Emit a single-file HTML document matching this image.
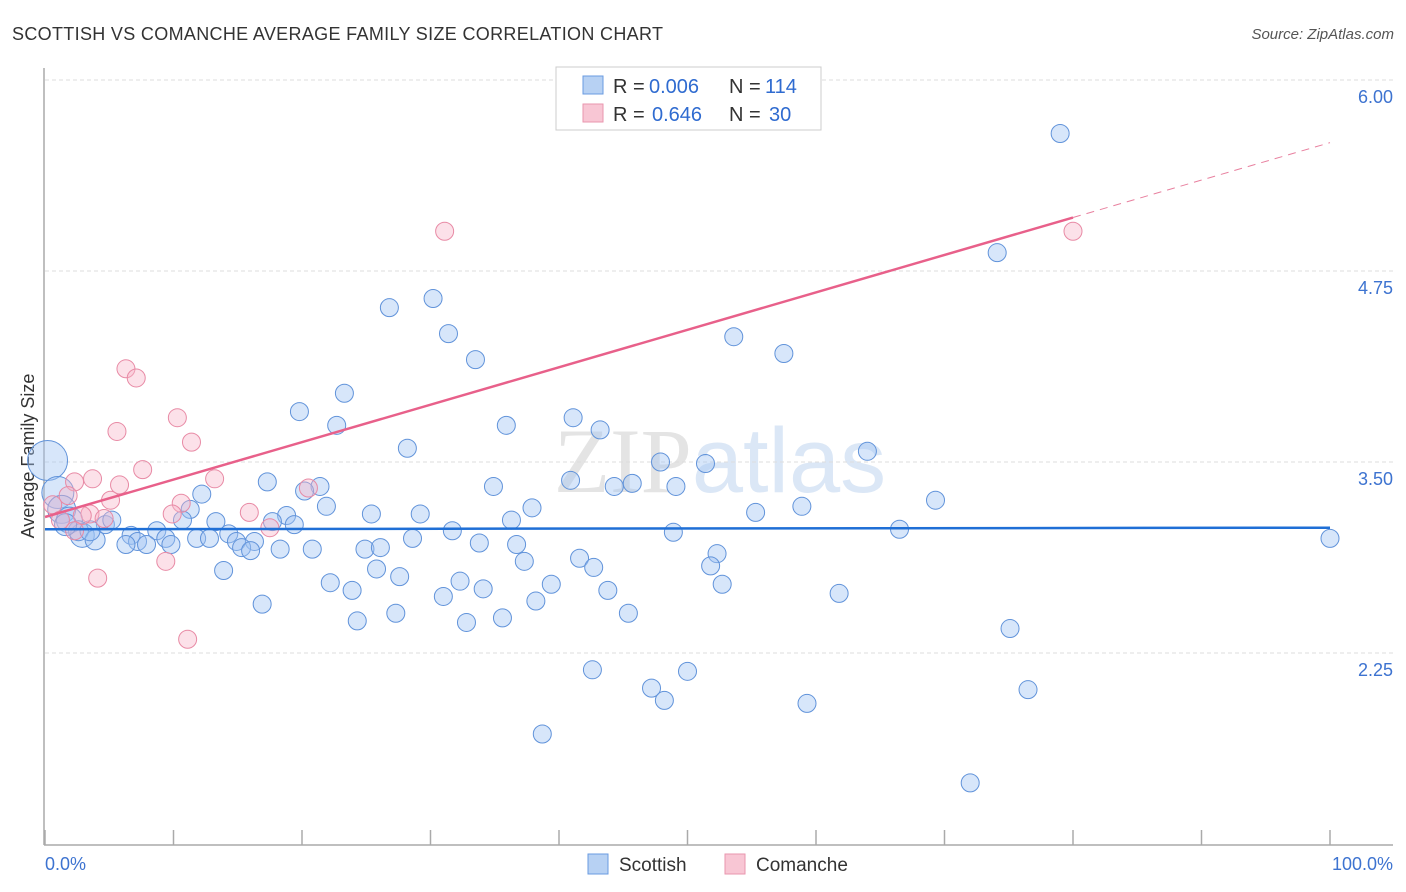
<!DOCTYPE html>
<html><head><meta charset="utf-8"><style>
body{margin:0;background:#fff;font-family:"Liberation Sans",sans-serif;}
svg{display:block}
</style></head><body>
<svg id="chart" width="1406" height="892">
<text x="12" y="40" font-size="18" fill="#333" textLength="651">SCOTTISH VS COMANCHE AVERAGE FAMILY SIZE CORRELATION CHART</text>
<text x="1394" y="39" font-size="15" fill="#555" font-style="italic" text-anchor="end">Source: ZipAtlas.com</text>
<text x="720" y="492" font-size="92" fill="#e4e4e4" text-anchor="middle" font-family="Liberation Serif">ZIP<tspan fill="#dbe7f6" font-family="Liberation Sans">atlas</tspan></text>
<g id="grid"></g>
<line x1="44" y1="68" x2="44" y2="845" stroke="#aaa" stroke-width="1.5"/>
<line x1="44" y1="845" x2="1393" y2="845" stroke="#aaa" stroke-width="1.5"/>
<g id="xticks"></g>
<text x="34" y="456" font-size="18" fill="#333" text-anchor="middle" transform="rotate(-90 34 456)">Average Family Size</text>
<text x="45" y="870" font-size="18" fill="#3d73d0">0.0%</text>
<text x="1393" y="870" font-size="18" fill="#3d73d0" text-anchor="end">100.0%</text>
<g id="pts"></g>
<g id="lines"></g>
<g>
<rect x="556" y="67" width="265" height="63" fill="#fff" stroke="#ccc"/>
<rect x="583" y="76" width="20" height="18" fill="#b7d1f3" stroke="#6a9be0"/>
<rect x="583" y="104" width="20" height="18" fill="#f8c6d4" stroke="#e996ae"/>
<text x="613" y="93" font-size="20" fill="#333">R =</text>
<text x="649" y="93" font-size="20" fill="#2f6bd0">0.006</text>
<text x="729" y="93" font-size="20" fill="#333">N =</text>
<text x="765" y="93" font-size="20" fill="#2f6bd0">114</text>
<text x="613" y="121" font-size="20" fill="#333">R =</text>
<text x="652" y="121" font-size="20" fill="#2f6bd0">0.646</text>
<text x="729" y="121" font-size="20" fill="#333">N =</text>
<text x="769" y="121" font-size="20" fill="#2f6bd0">30</text>
</g>
<g>
<rect x="588" y="854" width="20" height="20" fill="#b7d1f3" stroke="#6a9be0"/>
<text x="619" y="871" font-size="19" fill="#333">Scottish</text>
<rect x="725" y="854" width="20" height="20" fill="#f8c6d4" stroke="#e996ae"/>
<text x="756" y="871" font-size="19" fill="#333">Comanche</text>
</g>
</svg>
<script>
const yTicks=[6.00,4.75,3.50,2.25];
const yTickLabels=["6.00","4.75","3.50","2.25"];
const xTicks=[0,10,20,30,40,50,60,70,80,90,100];
const scotX=[79.0,74.1,26.8,30.2,31.4,33.5,53.6,57.5,23.3,19.8,22.7,35.9,41.1,43.2,28.2,64.0,47.9,51.4,17.3,34.9,40.9,44.3,45.7,49.1,21.4,20.2,12.2,69.3,11.3,21.9,37.9,55.3,58.9,25.4,29.2,18.8,17.7,19.4,36.3,13.3,10.7,31.7,48.9,66.5,8.7,6.7,14.3,28.6,100,11.8,12.8,9.4,7.2,6.3,7.9,9.8,14.9,16.3,15.3,16.0,18.3,20.8,24.9,26.1,33.8,36.7,41.6,52.3,37.3,42.7,51.8,13.9,25.8,27.6,32.3,22.2,39.4,52.7,23.9,34.1,43.8,31.0,38.2,61.8,16.9,27.3,45.4,35.6,32.8,24.3,75.1,42.6,50.0,47.2,48.2,59.3,76.5,38.7,72.0,0.2,1.0,1.3,1.9,2.9,2.6,3.9,4.7,5.2,3.5,1.6];
const scotY=[5.65,4.87,4.51,4.57,4.34,4.17,4.32,4.21,3.95,3.83,3.74,3.74,3.79,3.71,3.59,3.57,3.50,3.49,3.37,3.34,3.38,3.34,3.36,3.34,3.34,3.31,3.29,3.25,3.19,3.21,3.20,3.17,3.21,3.16,3.16,3.15,3.11,3.09,3.12,3.11,3.12,3.05,3.04,3.06,3.05,3.02,3.03,3.00,3.00,3.00,3.00,3.00,2.98,2.96,2.96,2.96,2.98,2.98,2.94,2.92,2.93,2.93,2.93,2.94,2.97,2.96,2.87,2.90,2.85,2.81,2.82,2.79,2.80,2.75,2.72,2.71,2.70,2.70,2.66,2.67,2.66,2.62,2.59,2.64,2.57,2.51,2.51,2.48,2.45,2.46,2.41,2.14,2.13,2.02,1.94,1.92,2.01,1.72,1.40,3.51,3.30,3.19,3.12,3.02,3.05,2.99,3.09,3.12,3.05,3.09];
const scotR=[9,9,9,9,9,9,9,9,9,9,9,9,9,9,9,9,9,9,9,9,9,9,9,9,9,9,9,9,9,9,9,9,9,9,9,9,9,9,9,9,9,9,9,9,9,9,9,9,9,9,9,9,9,9,9,9,9,9,9,9,9,9,9,9,9,9,9,9,9,9,9,9,9,9,9,9,9,9,9,9,9,9,9,9,9,9,9,9,9,9,9,9,9,9,9,9,9,9,9,20,16,14,13,12,10,10,9,9,10,11];
const comX=[31.1,80.0,6.3,7.1,10.3,5.6,11.4,7.6,3.7,13.2,2.3,5.8,20.5,1.8,5.1,10.6,0.6,15.9,9.9,3.5,2.9,4.6,17.5,9.4,4.1,11.1,1.2,2.3];
const comY=[5.01,5.01,4.11,4.05,3.79,3.70,3.63,3.45,3.39,3.39,3.37,3.35,3.33,3.28,3.25,3.23,3.22,3.17,3.16,3.16,3.15,3.13,3.07,2.85,2.74,2.34,3.12,3.05];
const scotTrend=[3.06,3.07];
const comTrendStart=3.14, comTrendEnd=5.59, comSolidEnd=80;
const NS='http://www.w3.org/2000/svg';
const X=p=>45+p*12.85, Y=v=>80+(6-v)*152.8;
function mk(t,a,parent){const e=document.createElementNS(NS,t);for(const k in a)e.setAttribute(k,a[k]);document.getElementById(parent).appendChild(e);return e;}
yTicks.forEach((v,i)=>{
 const g=mk('line',{x1:45,x2:1393,y1:Y(v),y2:Y(v),stroke:'#ddd','stroke-dasharray':'4 3'},'grid');
 
 
 const t=mk('text',{x:1393,y:Y(v)+23,'font-size':18,fill:'#3d73d0','text-anchor':'end'},'grid');
 t.textContent=yTickLabels[i];
 
 
});
xTicks.forEach(p=>{
 const l=mk('line',{x1:X(p),x2:X(p),y1:830,y2:845,stroke:'#aaa','stroke-width':1.5},'xticks');
 
 
});
scotX.forEach((p,i)=>{
 const c=mk('circle',{cx:X(p),cy:Y(scotY[i]),r:scotR[i],fill:'rgba(160,196,242,0.42)',stroke:'#6193da','stroke-width':1},'pts');
 
 
});
comX.forEach((p,i)=>{
 const c=mk('circle',{cx:X(p),cy:Y(comY[i]),r:9,fill:'rgba(247,180,200,0.4)',stroke:'#e88aa5','stroke-width':1},'pts');
 
 
});
const bl=mk('line',{x1:X(0),y1:Y(scotTrend[0]),x2:X(100),y2:Y(scotTrend[1]),stroke:'#1f6fd6','stroke-width':2.5},'lines');


const cy=p=>comTrendStart+(comTrendEnd-comTrendStart)*p/100;
const pl=mk('line',{x1:X(0),y1:Y(cy(0)),x2:X(comSolidEnd),y2:Y(cy(comSolidEnd)),stroke:'#e8608a','stroke-width':2.5},'lines');


const pd=mk('line',{x1:X(comSolidEnd),y1:Y(cy(comSolidEnd)),x2:X(100),y2:Y(cy(100)),stroke:'#e8809f','stroke-width':1,'stroke-dasharray':'8 6'},'lines');


</script>
</body></html>
